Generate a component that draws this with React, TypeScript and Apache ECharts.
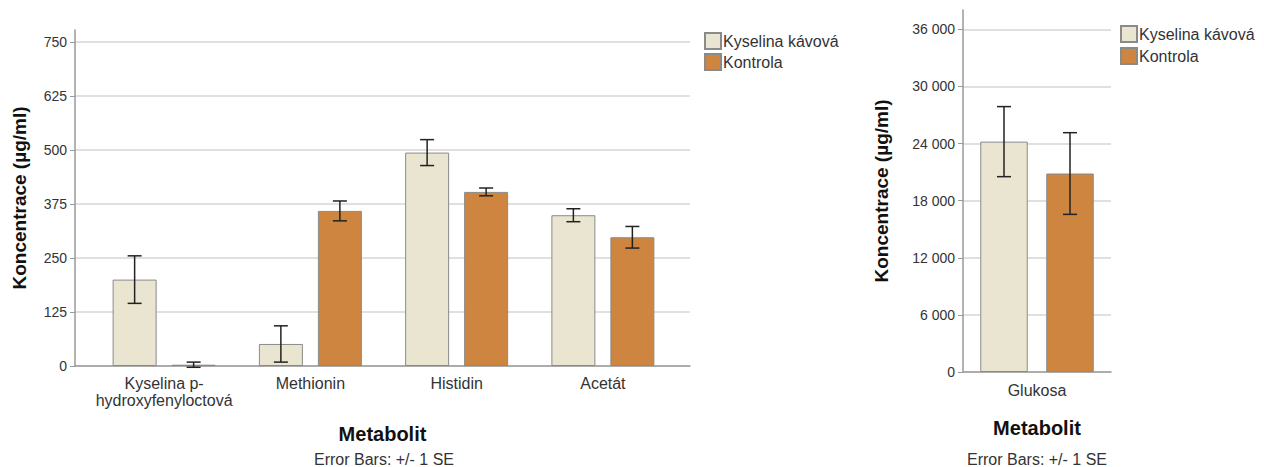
import React, { useEffect, useRef } from "react";
import * as echarts from "echarts";

const SERIES_NAMES = ["Kyselina kávová", "Kontrola"];
const LEFT_CATEGORIES = ["Kyselina p-\nhydroxyfenyloctová", "Methionin", "Histidin", "Acetát"];
const LEFT_CAFFEIC = [200, 51, 494, 349];
const LEFT_CAFFEIC_SE = [55, 42, 30, 15];
const LEFT_CONTROL = [3, 359, 403, 298];
const LEFT_CONTROL_SE = [6, 23, 9, 25];
const LEFT_TICKS_MAX = 750;
const LEFT_INTERVAL = 125;

const RIGHT_CATEGORIES = ["Glukosa"];
const RIGHT_CAFFEIC = [24200];
const RIGHT_CAFFEIC_SE = [3680];
const RIGHT_CONTROL = [20850];
const RIGHT_CONTROL_SE = [4290];
const RIGHT_INTERVAL = 6000;

const FOOTNOTE = "Error Bars: +/- 1 SE";

const CREAM = "#EAE5D0";
const ORANGE = "#CD853F";
const BORDER = "#8a8a8a";
const FONT = "Liberation Sans";
const GRID_COLOR = "#d6d6d6";
const AXIS_COLOR = "#9a9a9a";
const TEXT_COLOR = "#333";

const fmtThousands = (v: number) => String(v).replace(/\B(?=(\d{3})+(?!\d))/g, " ");

function errorSeries(name: string, xAxisIndex: number, yAxisIndex: number, means: number[], ses: number[], offset: number) {
  return {
    type: "custom",
    name: name + "_err",
    xAxisIndex,
    yAxisIndex,
    silent: true,
    z: 5,
    encode: { x: 0, y: 1 },
    data: means.map((m, i) => [i, m, ses[i]]),
    renderItem: (params: any, api: any) => {
      const idx = api.value(0);
      const m = api.value(1);
      const se = api.value(2);
      const hi = api.coord([idx, m + se]);
      const lo = api.coord([idx, m - se]);
      const x = hi[0] + offset;
      const cap = 7;
      const style = { stroke: "#222", lineWidth: 1.5 };
      return {
        type: "group",
        children: [
          { type: "line", shape: { x1: x, y1: hi[1], x2: x, y2: lo[1] }, style },
          { type: "line", shape: { x1: x - cap, y1: hi[1], x2: x + cap, y2: hi[1] }, style },
          { type: "line", shape: { x1: x - cap, y1: lo[1], x2: x + cap, y2: lo[1] }, style },
        ],
      };
    },
  };
}

export default function App() {
  const ref = useRef<HTMLDivElement>(null);

  useEffect(() => {
    if (!ref.current) return;
    const chart = echarts.init(ref.current, undefined, { renderer: "svg" });

    const leftMax = LEFT_TICKS_MAX + 12 / (324 / 750);
    const rightMax = 36000 + 19.3 / (57.12 / 6000);

    const leftBarW = 44;
    const leftGap = 15;
    const rightBarW = 47.5;
    const rightGap = 18.5;

    const legendText = { fontFamily: FONT, fontSize: 16, color: TEXT_COLOR, padding: [0, 0, 0, -3] };

    const option: any = {
      animation: false,
      textStyle: { fontFamily: FONT },
      grid: [
        { left: 75, top: 30, width: 615, height: 336 },
        { left: 91, top: 30, width: 585, height: 336 },
        { left: 963, top: 10, width: 148, height: 362 },
      ],
      xAxis: [
        {
          gridIndex: 0,
          type: "value",
          min: 0,
          max: 1,
          axisLine: { show: true, lineStyle: { color: AXIS_COLOR, width: 1.5 } },
          axisTick: { show: false },
          axisLabel: { show: false },
          splitLine: { show: false },
          name: "Metabolit",
          nameLocation: "middle",
          nameGap: 58,
          nameTextStyle: { fontFamily: FONT, fontSize: 20, fontWeight: "bold", color: "#111" },
        },
        {
          gridIndex: 1,
          type: "category",
          data: LEFT_CATEGORIES,
          axisLine: { show: false },
          axisTick: { show: false },
          axisLabel: { fontFamily: FONT, fontSize: 16, color: TEXT_COLOR, margin: 9, lineHeight: 17, interval: 0 },
          splitLine: { show: false },
        },
        {
          gridIndex: 2,
          type: "category",
          data: RIGHT_CATEGORIES,
          axisLine: { show: true, lineStyle: { color: AXIS_COLOR, width: 1.5 } },
          axisTick: { show: false },
          axisLabel: { fontFamily: FONT, fontSize: 16, color: TEXT_COLOR, margin: 10 },
          name: "Metabolit",
          nameLocation: "middle",
          nameGap: 46,
          nameTextStyle: { fontFamily: FONT, fontSize: 20, fontWeight: "bold", color: "#111" },
        },
      ],
      yAxis: [
        {
          gridIndex: 0,
          type: "value",
          min: 0,
          max: leftMax,
          interval: LEFT_INTERVAL,
          axisLine: { show: true, lineStyle: { color: AXIS_COLOR, width: 1.5 } },
          axisTick: { show: true, length: 5, lineStyle: { color: AXIS_COLOR } },
          axisLabel: { fontFamily: FONT, fontSize: 14, color: TEXT_COLOR, margin: 8, showMaxLabel: false },
          splitLine: { show: true, showMaxLine: false, lineStyle: { color: GRID_COLOR, width: 1.5 } },
          name: "Koncentrace (µg/ml)",
          nameLocation: "middle",
          nameGap: 46,
          nameTextStyle: { fontFamily: FONT, fontSize: 19, fontWeight: "bold", color: "#111" },
        },
        {
          gridIndex: 1,
          type: "value",
          min: 0,
          max: leftMax,
          show: false,
          splitLine: { show: false },
        },
        {
          gridIndex: 2,
          type: "value",
          min: 0,
          max: rightMax,
          interval: RIGHT_INTERVAL,
          axisLine: { show: true, lineStyle: { color: AXIS_COLOR, width: 1.5 } },
          axisTick: { show: true, length: 5, lineStyle: { color: AXIS_COLOR } },
          axisLabel: {
            fontFamily: FONT,
            fontSize: 14,
            color: TEXT_COLOR,
            margin: 8,
            showMaxLabel: false,
            formatter: (v: number) => fmtThousands(v),
          },
          splitLine: { show: true, showMaxLine: false, lineStyle: { color: GRID_COLOR, width: 1.5 } },
          name: "Koncentrace (µg/ml)",
          nameLocation: "middle",
          nameGap: 72,
          nameTextStyle: { fontFamily: FONT, fontSize: 19, fontWeight: "bold", color: "#111" },
        },
      ],
      legend: [
        {
          data: SERIES_NAMES,
          orient: "vertical",
          left: 699,
          top: 27,
          itemWidth: 16,
          itemHeight: 16,
          itemGap: 3,
          icon: "rect",
          textStyle: legendText,
          selectedMode: false,
        },
        {
          data: SERIES_NAMES,
          orient: "vertical",
          left: 1115,
          top: 20,
          itemWidth: 16,
          itemHeight: 16,
          itemGap: 4,
          icon: "rect",
          textStyle: legendText,
          selectedMode: false,
        },
      ],
      graphic: [
        {
          type: "text",
          x: 384,
          y: 451,
          style: { text: FOOTNOTE, fontFamily: FONT, fontSize: 16, fill: TEXT_COLOR, align: "center", verticalAlign: "top" },
        },
        {
          type: "text",
          x: 1037,
          y: 451,
          style: { text: FOOTNOTE, fontFamily: FONT, fontSize: 16, fill: TEXT_COLOR, align: "center", verticalAlign: "top" },
        },
      ],
      series: [
        {
          type: "bar",
          name: SERIES_NAMES[0],
          xAxisIndex: 1,
          yAxisIndex: 1,
          data: LEFT_CAFFEIC,
          barWidth: leftBarW,
          barGap: `${(leftGap / leftBarW) * 100}%`,
          itemStyle: { color: CREAM, borderColor: BORDER, borderWidth: 1 },
        },
        {
          type: "bar",
          name: SERIES_NAMES[1],
          xAxisIndex: 1,
          yAxisIndex: 1,
          data: LEFT_CONTROL,
          barWidth: leftBarW,
          barGap: `${(leftGap / leftBarW) * 100}%`,
          itemStyle: { color: ORANGE, borderColor: BORDER, borderWidth: 1 },
        },
        errorSeries(SERIES_NAMES[0], 1, 1, LEFT_CAFFEIC, LEFT_CAFFEIC_SE, -(leftBarW + leftGap) / 2),
        errorSeries(SERIES_NAMES[1], 1, 1, LEFT_CONTROL, LEFT_CONTROL_SE, (leftBarW + leftGap) / 2),
        {
          type: "bar",
          name: SERIES_NAMES[0],
          xAxisIndex: 2,
          yAxisIndex: 2,
          data: RIGHT_CAFFEIC,
          barWidth: rightBarW,
          barGap: `${(rightGap / rightBarW) * 100}%`,
          itemStyle: { color: CREAM, borderColor: BORDER, borderWidth: 1 },
        },
        {
          type: "bar",
          name: SERIES_NAMES[1],
          xAxisIndex: 2,
          yAxisIndex: 2,
          data: RIGHT_CONTROL,
          barWidth: rightBarW,
          barGap: `${(rightGap / rightBarW) * 100}%`,
          itemStyle: { color: ORANGE, borderColor: BORDER, borderWidth: 1 },
        },
        errorSeries(SERIES_NAMES[0], 2, 2, RIGHT_CAFFEIC, RIGHT_CAFFEIC_SE, -(rightBarW + rightGap) / 2),
        errorSeries(SERIES_NAMES[1], 2, 2, RIGHT_CONTROL, RIGHT_CONTROL_SE, (rightBarW + rightGap) / 2),
      ],
    };

    chart.setOption(option);
    return () => chart.dispose();
  }, []);

  return (
    <div
      ref={ref}
      style={{ position: "fixed", left: 0, top: 0, width: 1264, height: 467, background: "#fff" }}
    />
  );
}
